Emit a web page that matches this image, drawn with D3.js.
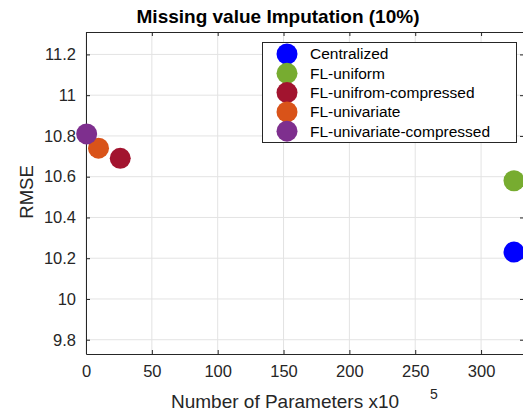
<!DOCTYPE html>
<html>
<head>
<meta charset="utf-8">
<script src="https://cdn.jsdelivr.net/npm/d3@7"></script>
<style>
  body { margin: 0; background: #fff; }
  text { font-family: "Liberation Sans", Arial, sans-serif; }
</style>
</head>
<body>
<div id="chart"></div>
<script>
const width = 523,
      height = 412;

// data
const series = ['Centralized', 'FL-uniform', 'FL-unifrom-compressed', 'FL-univariate', 'FL-univariate-compressed'];
const params = [325, 325, 26, 9.5, 0.5];
const rmse = [10.23, 10.58, 10.69, 10.74, 10.81];
const colors = ['#0000ff', '#77ac30', '#a2142f', '#d95319', '#7e2f8e'];
const xTicks = [0, 50, 100, 150, 200, 250, 300];
const yTicks = [9.8, 10, 10.2, 10.4, 10.6, 10.8, 11, 11.2];

const margin = {left: 86, top: 32, right: -1, bottom: 58};

const svg = d3.select('#chart')
              .append('svg')
              .attr('width', width)
              .attr('height', height);

const x = d3.scaleLinear()
            .domain([0, 332.6])
            .range([margin.left, width - margin.right]);

const y = d3.scaleLinear()
            .domain([9.73, 11.31])
            .range([height - margin.bottom, margin.top]);

// grid
svg.append('g')
   .selectAll('line')
   .data(xTicks)
   .join('line')
   .attr('x1', d => x(d)).attr('x2', d => x(d))
   .attr('y1', y.range()[0]).attr('y2', y.range()[1])
   .attr('stroke', '#e3e3e3');

svg.append('g')
   .selectAll('line')
   .data(yTicks)
   .join('line')
   .attr('x1', x.range()[0]).attr('x2', x.range()[1])
   .attr('y1', d => y(d)).attr('y2', d => y(d))
   .attr('stroke', '#e3e3e3');

// axes (ticks inside, MATLAB style)
const xAxis = d3.axisBottom(x).tickValues(xTicks).tickSizeInner(-4).tickSizeOuter(0).tickPadding(11);
const yAxis = d3.axisLeft(y).tickValues(yTicks).tickFormat(d3.format('')).tickSizeInner(-4).tickSizeOuter(0).tickPadding(10);

svg.append('g')
   .attr('transform', `translate(0, ${y.range()[0]})`)
   .call(xAxis);

svg.append('g')
   .attr('transform', `translate(${margin.left}, 0)`)
   .call(yAxis);

svg.append('g')
   .attr('transform', `translate(0, ${margin.top})`)
   .call(d3.axisTop(x).tickValues(xTicks).tickSizeInner(-4).tickSizeOuter(0).tickFormat(''));

svg.append('g')
   .attr('transform', `translate(${x.range()[1]}, 0)`)
   .call(d3.axisRight(y).tickValues(yTicks).tickSizeInner(-4).tickSizeOuter(0).tickFormat(''));

svg.selectAll('.domain').attr('stroke', '#262626');
svg.selectAll('.tick line').attr('stroke', '#262626');
svg.selectAll('.tick text')
   .attr('fill', '#262626')
   .style('font-size', '16.5px');

// points
svg.append('g')
   .selectAll('circle')
   .data(series)
   .join('circle')
   .attr('cx', (d, i) => x(params[i]))
   .attr('cy', (d, i) => y(rmse[i]))
   .attr('r', 10.5)
   .attr('fill', (d, i) => colors[i]);

// title
svg.append('text')
   .attr('x', 278)
   .attr('y', 23)
   .attr('text-anchor', 'middle')
   .style('font-size', '19px')
   .style('font-weight', 'bold')
   .attr('fill', '#000')
   .text('Missing value Imputation (10%)');

// axis labels
svg.append('text')
   .attr('x', 285)
   .attr('y', 408)
   .attr('text-anchor', 'middle')
   .style('font-size', '19px')
   .attr('fill', '#262626')
   .text('Number of Parameters x10');

svg.append('text')
   .attr('x', 434)
   .attr('y', 399)
   .attr('text-anchor', 'middle')
   .style('font-size', '14px')
   .attr('fill', '#262626')
   .text('5');

svg.append('text')
   .attr('transform', 'rotate(-90)')
   .attr('x', -192)
   .attr('y', 33)
   .attr('text-anchor', 'middle')
   .style('font-size', '18.5px')
   .attr('fill', '#262626')
   .text('RMSE');

// legend
const legend = svg.append('g');

legend.append('rect')
      .attr('x', 262.5)
      .attr('y', 42.5)
      .attr('width', 254)
      .attr('height', 100)
      .attr('fill', '#fff')
      .attr('stroke', '#262626');

const item = legend.selectAll('g.item')
                   .data(series)
                   .join('g')
                   .attr('class', 'item')
                   .attr('transform', (d, i) => `translate(287, ${54 + i * 19.3})`);

item.append('circle')
    .attr('r', 10.5)
    .attr('fill', (d, i) => colors[i]);

item.append('text')
    .attr('x', 23)
    .attr('dy', '0.35em')
    .style('font-size', '15.5px')
    .attr('fill', '#000')
    .text(d => d);
</script>
</body>
</html>
